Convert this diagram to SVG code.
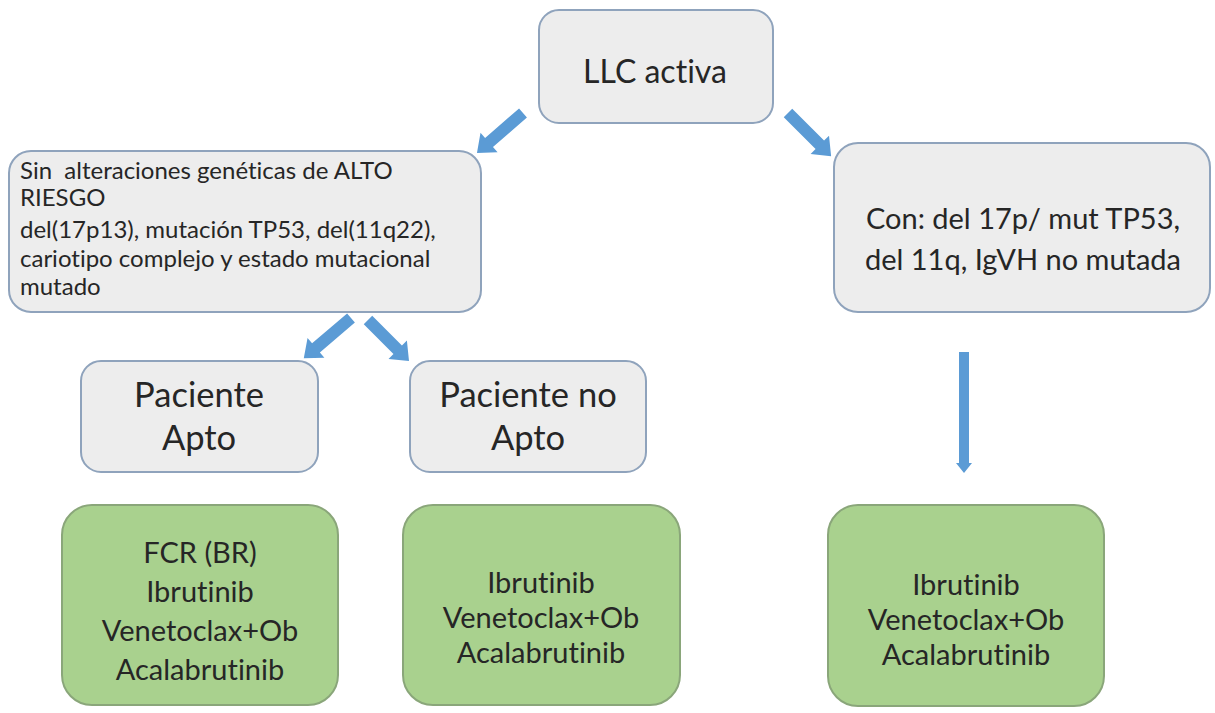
<svg xmlns="http://www.w3.org/2000/svg" width="1215" height="713" viewBox="0 0 1215 713">
<style>
.grey{fill:#EDEDED;stroke:#8FA3BC;stroke-width:2}
.green{fill:#A9D18E;stroke:#8AA67A;stroke-width:2}
text{font-family:Lato,"Liberation Sans",sans-serif;fill:#262626;font-variant-ligatures:none;font-feature-settings:"liga" 0}
.c{text-anchor:middle}
.s{font-size:24px;white-space:pre}
.g{font-size:29px}
.p{font-size:34.5px}
.arr{fill:#5B9BD5}
</style>
<rect width="1215" height="713" fill="#FFFFFF"/>
<g id="connectors">
<path class="arr" transform="translate(523,113) rotate(139)" d="M0,-6 L45,-6 L45,-13 L61,0 L45,13 L45,6 L0,6 Z"/>
<path class="arr" transform="translate(788,113) rotate(45)" d="M0,-6 L45,-6 L45,-13 L61,0 L45,13 L45,6 L0,6 Z"/>
<path class="arr" transform="translate(351,318) rotate(139.6)" d="M0,-6 L46,-6 L46,-13 L62,0 L46,13 L46,6 L0,6 Z"/>
<path class="arr" transform="translate(368,320) rotate(45)" d="M0,-6 L42,-6 L42,-13 L58,0 L42,13 L42,6 L0,6 Z"/>
<path class="arr" transform="translate(964,352) rotate(90)" d="M0,-5 L111,-5 L111,-8 L121,0 L111,8 L111,5 L0,5 Z"/>
</g>
<g id="n-llc">
<rect class="grey" x="539" y="10" width="234" height="113" rx="20"/>
<text class="c" x="655" y="83" font-size="32">LLC activa</text>
</g>
<g id="n-sin">
<rect class="grey" x="9" y="151" width="472" height="161" rx="22"/>
<text class="s" x="20" y="179" xml:space="preserve">Sin  alteraciones genéticas de ALTO</text>
<text class="s" x="20" y="206">RIESGO</text>
<text class="s" x="20" y="238">del(17p13), mutación TP53, del(11q22),</text>
<text class="s" x="20" y="267">cariotipo complejo y estado mutacional</text>
<text class="s" x="20" y="295">mutado</text>
</g>
<g id="n-con">
<rect class="grey" x="834" y="143" width="376" height="169" rx="24"/>
<text class="c" x="1023" y="229" font-size="29">Con: del 17p/ mut TP53,</text>
<text class="c" x="1023" y="270" font-size="29">del 11q, IgVH no mutada</text>
</g>
<g id="n-apto">
<rect class="grey" x="81" y="361" width="237" height="111" rx="20"/>
<text class="c p" x="199" y="407">Paciente</text>
<text class="c p" x="199" y="450">Apto</text>
</g>
<g id="n-noapto">
<rect class="grey" x="410" y="361" width="236" height="111" rx="20"/>
<text class="c p" x="528" y="407">Paciente no</text>
<text class="c p" x="528" y="450">Apto</text>
</g>
<g id="t-apto">
<rect class="green" x="62" y="505" width="276" height="200" rx="30"/>
<text class="c g" x="200" y="563">FCR (BR)</text>
<text class="c g" x="200" y="602">Ibrutinib</text>
<text class="c g" x="200" y="641">Venetoclax+Ob</text>
<text class="c g" x="200" y="680">Acalabrutinib</text>
</g>
<g id="t-noapto">
<rect class="green" x="403" y="505" width="277" height="200" rx="30"/>
<text class="c g" x="541" y="593">Ibrutinib</text>
<text class="c g" x="541" y="628">Venetoclax+Ob</text>
<text class="c g" x="541" y="663">Acalabrutinib</text>
</g>
<g id="t-con">
<rect class="green" x="828" y="505" width="276" height="201" rx="30"/>
<text class="c g" x="966" y="595">Ibrutinib</text>
<text class="c g" x="966" y="630">Venetoclax+Ob</text>
<text class="c g" x="966" y="665">Acalabrutinib</text>
</g>
</svg>
